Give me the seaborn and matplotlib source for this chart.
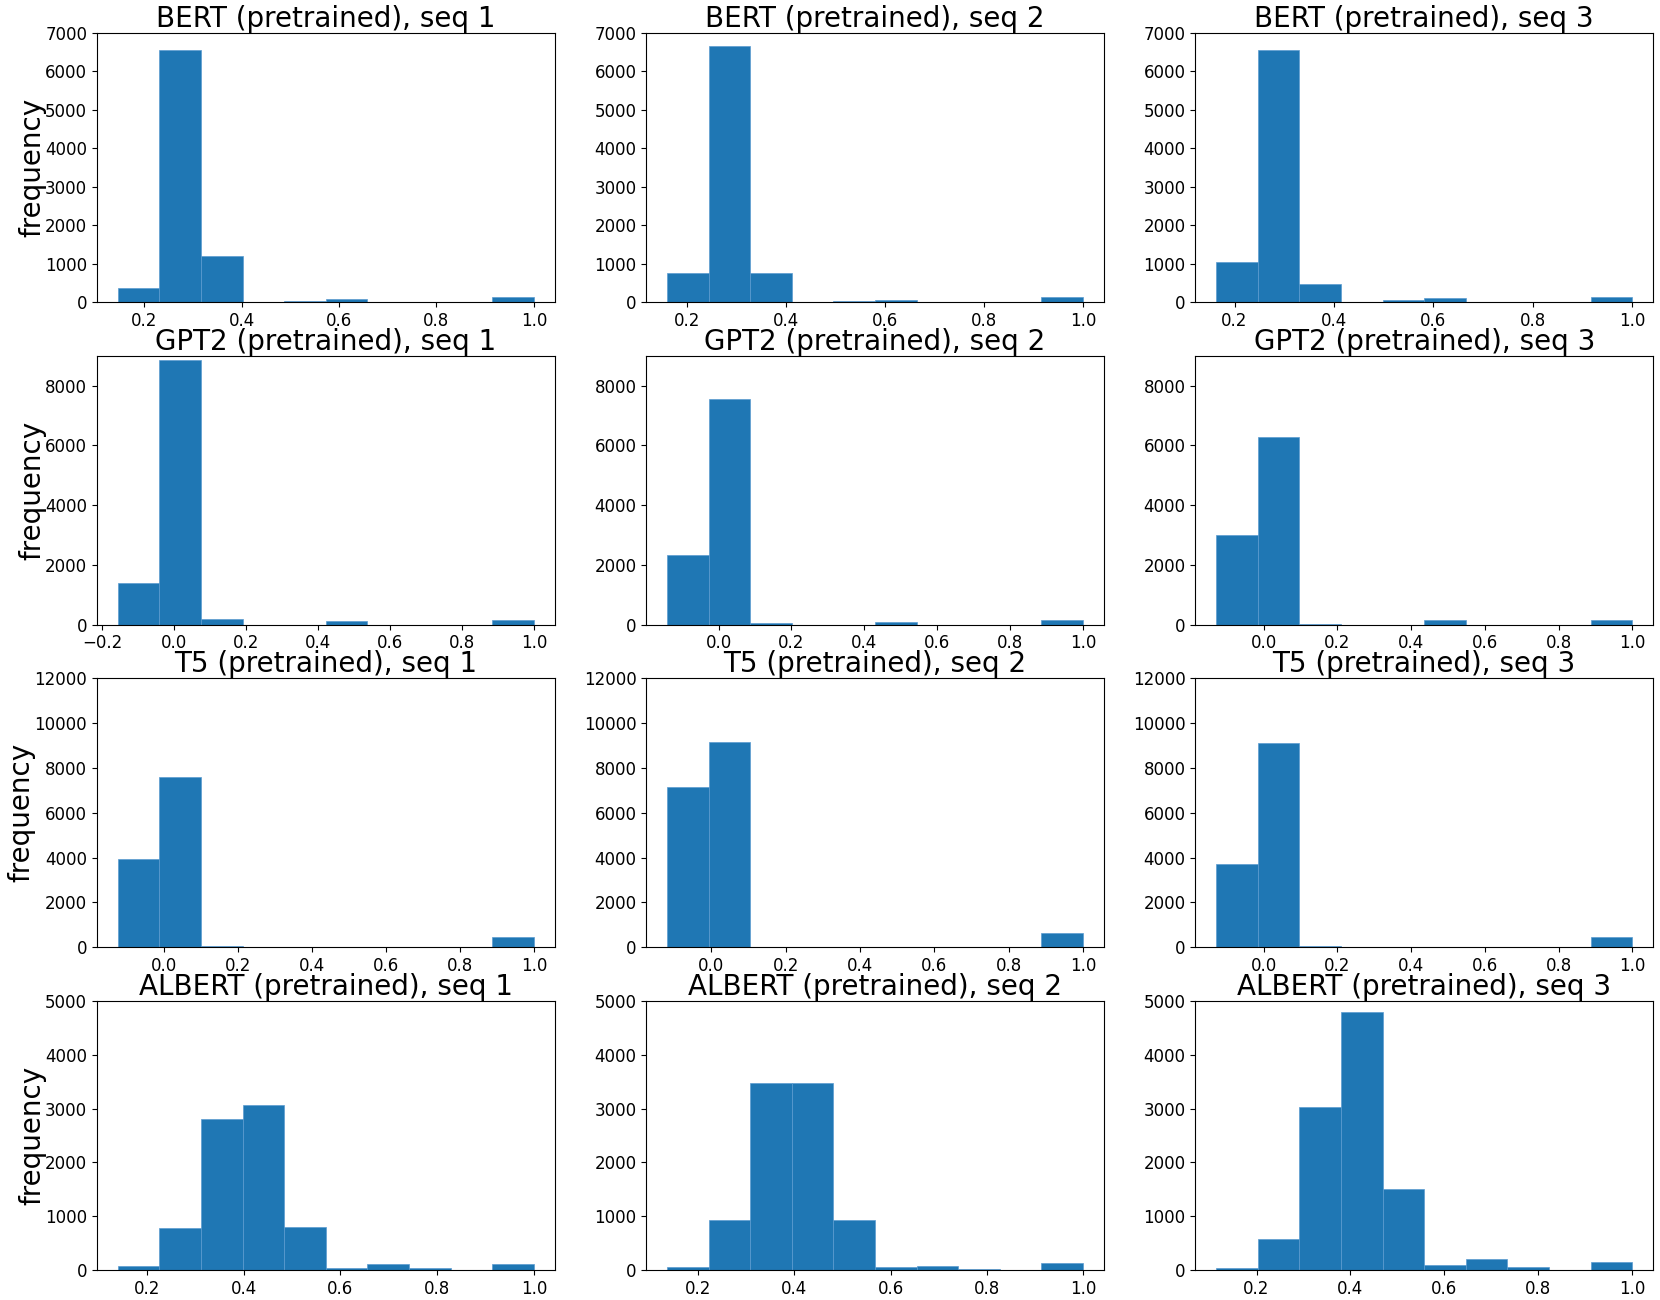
import numpy as np
import pandas as pd
import matplotlib
matplotlib.use("Agg")
import matplotlib.pyplot as plt
import seaborn as sns

# ---- data ----
models = ["BERT", "GPT2", "T5", "ALBERT"]
seqs = [1, 2, 3]
row_ylim = [7000, 9000, 12000, 5000]

# lower edge of the histogram range for each panel (upper edge is 1.0)
bert_lo = [0.1455, 0.159, 0.163]
gpt2_lo = [-0.157, -0.1415, -0.129]
t5_lo = [-0.126, -0.1194, -0.129]
albert_lo = [0.14, 0.135, 0.114]

# counts of the 10 bins for each panel
bert_counts = [
    [350, 6570, 1205, 0, 32, 80, 0, 0, 0, 135],
    [760, 6650, 740, 0, 25, 55, 0, 0, 0, 130],
    [1040, 6550, 470, 0, 45, 105, 0, 0, 0, 130],
]
gpt2_counts = [
    [1390, 8870, 200, 0, 0, 135, 0, 0, 0, 145],
    [2320, 7550, 65, 0, 0, 90, 0, 0, 0, 145],
    [2990, 6285, 25, 0, 0, 145, 0, 0, 0, 140],
]
t5_counts = [
    [3950, 7610, 75, 0, 0, 0, 0, 0, 0, 445],
    [7150, 9170, 30, 0, 0, 0, 0, 0, 0, 655],
    [3700, 9130, 60, 0, 0, 0, 0, 0, 0, 460],
]
albert_counts = [
    [75, 780, 2810, 3070, 795, 30, 115, 30, 0, 120],
    [60, 935, 3475, 3480, 920, 50, 80, 20, 0, 135],
    [40, 570, 3030, 4790, 1505, 95, 200, 55, 0, 140],
]
hi_edge = 1.0
n_bins = 10

all_lo = [bert_lo, gpt2_lo, t5_lo, albert_lo]
all_counts = [bert_counts, gpt2_counts, t5_counts, albert_counts]

fig, axes = plt.subplots(4, 3, figsize=(16.6, 13), dpi=100)
fig.subplots_adjust(left=0.0584, right=0.9958, bottom=0.0231, top=0.9746,
                    wspace=0.2, hspace=0.2)

for r, model in enumerate(models):
    for c, s in enumerate(seqs):
        ax = axes[r, c]
        lo = all_lo[r][c]
        counts = np.array(all_counts[r][c], dtype=float)
        edges = np.linspace(lo, hi_edge, n_bins + 1)
        centers = (edges[:-1] + edges[1:]) / 2
        df = pd.DataFrame({"value": centers, "count": counts})
        sns.histplot(data=df, x="value", weights="count", bins=n_bins,
                     binrange=(lo, hi_edge), color="#1f77b4", alpha=1.0,
                     edgecolor="#5b9bd0", linewidth=0.5, ax=ax)
        ax.set_ylim(0, row_ylim[r])
        ax.set_title(f"{model} (pretrained), seq {s}", fontsize=20, pad=3.7)
        ax.set_xlabel("")
        if c == 0:
            ax.set_ylabel("frequency", fontsize=20, labelpad=-1)
        else:
            ax.set_ylabel("")
        ax.tick_params(labelsize=12)
        for sp in ax.spines.values():
            sp.set_color("black")
            sp.set_linewidth(0.8)

fig.savefig("out.png", dpi=100)
